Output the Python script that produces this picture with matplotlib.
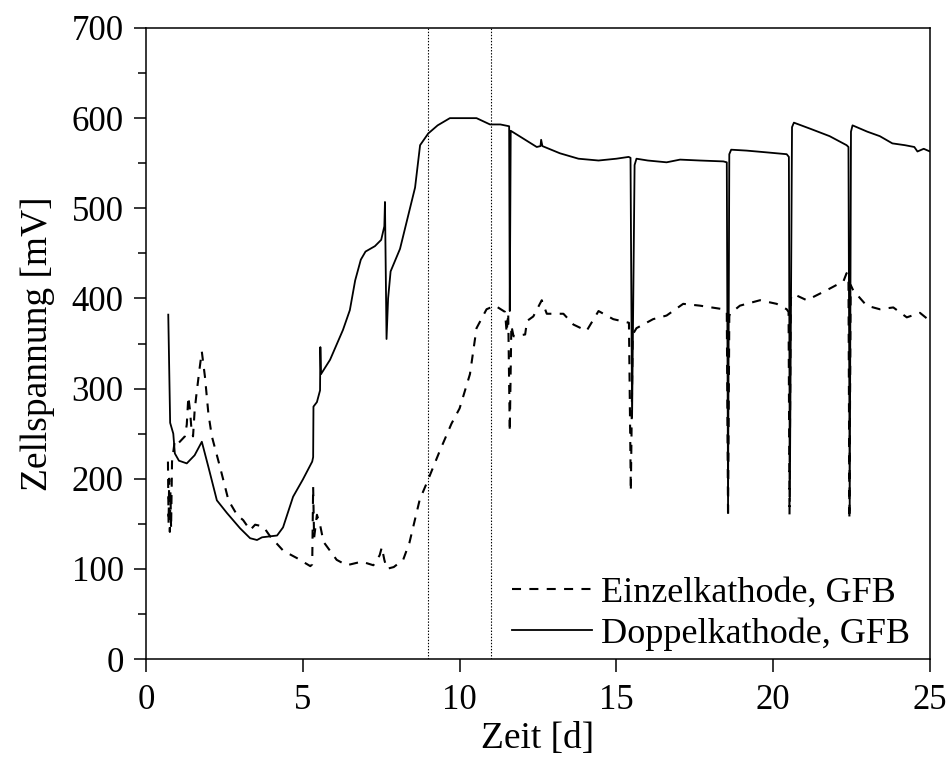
import matplotlib
matplotlib.use("Agg")
import matplotlib.pyplot as plt
from matplotlib.ticker import MultipleLocator

# ---- data ----
einzel_x = [0.70, 0.72, 0.74, 0.76, 0.78, 0.80, 0.83, 0.92, 1.05, 1.24, 1.30, 1.35, 1.40, 1.45,
            1.50, 1.55, 1.60, 1.70, 1.78, 1.88, 1.99, 2.10, 2.36, 2.47, 2.63, 2.90, 3.10, 3.32,
            3.48, 3.74, 3.96, 4.38, 4.81, 5.24, 5.30, 5.33, 5.36, 5.45, 5.55, 5.66, 6.08, 6.40,
            6.88, 7.25, 7.45, 7.52, 7.60, 7.68, 7.90, 8.20, 8.40, 8.73, 8.95, 9.37, 9.74, 10.00,
            10.33, 10.54, 10.86, 11.13, 11.45, 11.50, 11.55, 11.60, 11.65, 11.72, 12.09, 12.15,
            12.35, 12.62, 12.78, 13.31, 13.63, 14.05, 14.43, 14.90, 15.40, 15.46, 15.52, 15.64,
            16.17, 16.60, 17.13, 17.66, 18.41, 18.52, 18.56, 18.60, 18.62, 18.94, 19.58, 20.11,
            20.43, 20.49, 20.52, 20.56, 20.64, 21.07, 21.70, 22.24, 22.34, 22.40, 22.43, 22.47,
            22.55, 22.98, 23.40, 23.83, 24.26, 24.68, 25.00]
einzel_y = [219, 150, 200, 141, 185, 145, 219, 243, 240, 247, 260, 291, 277, 255,
            247, 275, 291, 320, 341, 313, 272, 247, 213, 198, 176, 160, 154, 143,
            149, 147, 136, 120, 112, 103, 105, 191, 134, 160, 149, 130, 110, 104,
            108, 104, 115, 124, 110, 100, 102, 110, 129, 177, 195, 231, 261, 278,
            316, 367, 388, 392, 385, 362, 384, 252, 370, 358, 360, 375,
            380, 398, 383, 383, 371, 364, 386, 377, 373, 186, 360, 367,
            377, 381, 394, 392, 388, 385, 157, 380, 383, 392, 398, 394,
            388, 385, 160, 400, 405, 398, 409, 419, 428, 425, 155, 415,
            409, 392, 388, 390, 379, 384, 375]

doppel_x = [0.71, 0.77, 0.87, 0.92, 1.05, 1.30, 1.55, 1.78, 1.99, 2.26, 2.58, 3.00, 3.32, 3.54,
            3.70, 4.18, 4.37, 4.69, 5.00, 5.30, 5.33, 5.34, 5.45, 5.55, 5.56, 5.58, 5.87, 6.28,
            6.50, 6.67, 6.85, 7.00, 7.30, 7.50, 7.60, 7.62, 7.67, 7.72, 7.80, 8.10, 8.58, 8.74,
            9.00, 9.30, 9.69, 10.00, 10.54, 10.97, 11.30, 11.58, 11.60, 11.63, 12.00, 12.46,
            12.58, 12.60, 12.64, 13.20, 13.79, 14.43, 15.00, 15.39, 15.45, 15.50, 15.58, 15.64,
            16.00, 16.60, 17.03, 17.66, 18.41, 18.52, 18.56, 18.60, 18.66, 19.15, 19.80, 20.43,
            20.50, 20.53, 20.60, 20.66, 21.20, 21.80, 22.34, 22.40, 22.44, 22.48, 22.53, 23.00,
            23.40, 23.80, 24.20, 24.50, 24.60, 24.80, 25.00]
doppel_y = [382, 262, 250, 228, 220, 217, 226, 241, 213, 176, 162, 145, 134, 132,
            135, 137, 146, 180, 199, 219, 224, 280, 285, 298, 346, 316, 332, 365,
            387, 420, 443, 452, 458, 465, 480, 507, 355, 400, 430, 455, 523, 570,
            583, 592, 600, 600, 600, 593, 593, 591, 386, 586, 578, 568,
            569, 576, 569, 561, 555, 553, 555, 557, 556, 268, 548, 555,
            553, 551, 554, 553, 552, 551, 170, 560, 565, 564, 562, 560,
            557, 175, 590, 595, 588, 580, 570, 568, 165, 585, 592, 585,
            580, 572, 570, 568, 563, 566, 563]

marker_lines = [9, 11]
labels = ["Einzelkathode, GFB", "Doppelkathode, GFB"]
x_ticks = [0, 5, 10, 15, 20, 25]
y_ticks = [0, 100, 200, 300, 400, 500, 600, 700]

# ---- style ----
plt.rcParams['font.family'] = ['Liberation Serif', 'DejaVu Serif']
plt.rcParams['lines.scale_dashes'] = False

fig = plt.figure(figsize=(9.48, 7.60), dpi=100)
ax = fig.add_axes([146 / 948, 1 - 659 / 760, (930 - 146) / 948, (659 - 28) / 760])

ax.plot(einzel_x, einzel_y, color='black', lw=1.5, linestyle=(0, (6.5, 6)), label=labels[0])
ax.plot(doppel_x, doppel_y, color='black', lw=1.3, linestyle='-', label=labels[1])

for xv in marker_lines:
    ax.axvline(xv, color='black', lw=0.8, linestyle=(0, (1, 1.2)))

ax.set_xlim(0, 25)
ax.set_ylim(0, 700)
ax.set_xticks(x_ticks)
ax.set_yticks(y_ticks)
ax.yaxis.set_minor_locator(MultipleLocator(50))

ax.tick_params(axis='both', which='major', direction='out', length=9, width=1.1,
               labelsize=25, top=False, right=False)
ax.tick_params(axis='x', which='major', pad=9)
ax.tick_params(axis='y', which='major', pad=7)
ax.tick_params(axis='y', which='minor', direction='out', length=6, width=1.1, right=False)
for s in ax.spines.values():
    s.set_linewidth(1.1)

ax.set_xlabel("Zeit [d]", fontsize=27, labelpad=3)
ax.set_ylabel("Zellspannung [mV]", fontsize=27, labelpad=12)

ax.legend(loc='lower right', frameon=False, fontsize=26, handlelength=2.2,
          handletextpad=0.25, labelspacing=0.22, borderaxespad=0.05,
          bbox_to_anchor=(0.995, -0.013))

fig.savefig("out.png", dpi=100)
